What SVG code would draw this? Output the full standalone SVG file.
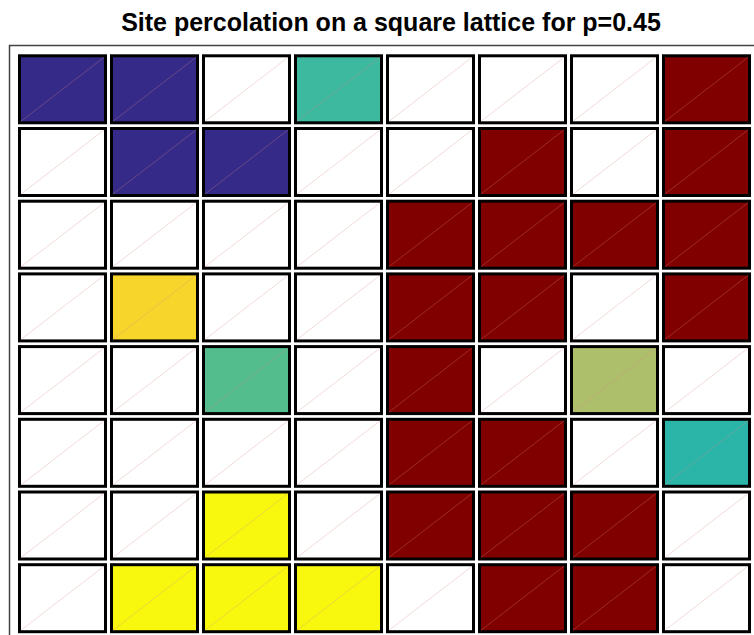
<svg xmlns="http://www.w3.org/2000/svg" width="754" height="635" viewBox="0 0 754 635">
<style>
.t{font-family:"Liberation Sans",Arial,sans-serif;font-weight:bold;font-size:25px;fill:#000}
.c{stroke:#000;stroke-width:3}
.w{fill:#fff}.n{fill:#352a87}.m{fill:#800000}.tq{fill:#3db99f}.g{fill:#f8d52a}.gr{fill:#53bd8e}.o{fill:#adbf6b}.cy{fill:#2ab5a8}.y{fill:#f8f80e}
.d{stroke:#d48a8a;stroke-width:0.7;stroke-opacity:0.45;fill:none}
</style>
<rect x="0" y="0" width="754" height="635" fill="#fff"/>
<text class="t" x="391" y="31" text-anchor="middle">Site percolation on a square lattice for p=0.45</text>
<path d="M9.5,635 V45.5 H754" fill="none" stroke="#444" stroke-width="1.5"/>
<g id="cells">
<g id="r0">
<rect class="c n" x="19.5" y="55.8" width="86" height="67"/>
<rect class="c n" x="111.5" y="55.8" width="86" height="67"/>
<rect class="c w" x="203.5" y="55.8" width="86" height="67"/>
<rect class="c tq" x="295.5" y="55.8" width="86" height="67"/>
<rect class="c w" x="387.5" y="55.8" width="86" height="67"/>
<rect class="c w" x="479.5" y="55.8" width="86" height="67"/>
<rect class="c w" x="571.5" y="55.8" width="86" height="67"/>
<rect class="c m" x="663.5" y="55.8" width="86" height="67"/>
</g>
<g id="r1">
<rect class="c w" x="19.5" y="128.5" width="86" height="67"/>
<rect class="c n" x="111.5" y="128.5" width="86" height="67"/>
<rect class="c n" x="203.5" y="128.5" width="86" height="67"/>
<rect class="c w" x="295.5" y="128.5" width="86" height="67"/>
<rect class="c w" x="387.5" y="128.5" width="86" height="67"/>
<rect class="c m" x="479.5" y="128.5" width="86" height="67"/>
<rect class="c w" x="571.5" y="128.5" width="86" height="67"/>
<rect class="c m" x="663.5" y="128.5" width="86" height="67"/>
</g>
<g id="r2">
<rect class="c w" x="19.5" y="201.2" width="86" height="67"/>
<rect class="c w" x="111.5" y="201.2" width="86" height="67"/>
<rect class="c w" x="203.5" y="201.2" width="86" height="67"/>
<rect class="c w" x="295.5" y="201.2" width="86" height="67"/>
<rect class="c m" x="387.5" y="201.2" width="86" height="67"/>
<rect class="c m" x="479.5" y="201.2" width="86" height="67"/>
<rect class="c m" x="571.5" y="201.2" width="86" height="67"/>
<rect class="c m" x="663.5" y="201.2" width="86" height="67"/>
</g>
<g id="r3">
<rect class="c w" x="19.5" y="273.9" width="86" height="67"/>
<rect class="c g" x="111.5" y="273.9" width="86" height="67"/>
<rect class="c w" x="203.5" y="273.9" width="86" height="67"/>
<rect class="c w" x="295.5" y="273.9" width="86" height="67"/>
<rect class="c m" x="387.5" y="273.9" width="86" height="67"/>
<rect class="c m" x="479.5" y="273.9" width="86" height="67"/>
<rect class="c w" x="571.5" y="273.9" width="86" height="67"/>
<rect class="c m" x="663.5" y="273.9" width="86" height="67"/>
</g>
<g id="r4">
<rect class="c w" x="19.5" y="346.6" width="86" height="67"/>
<rect class="c w" x="111.5" y="346.6" width="86" height="67"/>
<rect class="c gr" x="203.5" y="346.6" width="86" height="67"/>
<rect class="c w" x="295.5" y="346.6" width="86" height="67"/>
<rect class="c m" x="387.5" y="346.6" width="86" height="67"/>
<rect class="c w" x="479.5" y="346.6" width="86" height="67"/>
<rect class="c o" x="571.5" y="346.6" width="86" height="67"/>
<rect class="c w" x="663.5" y="346.6" width="86" height="67"/>
</g>
<g id="r5">
<rect class="c w" x="19.5" y="419.3" width="86" height="67"/>
<rect class="c w" x="111.5" y="419.3" width="86" height="67"/>
<rect class="c w" x="203.5" y="419.3" width="86" height="67"/>
<rect class="c w" x="295.5" y="419.3" width="86" height="67"/>
<rect class="c m" x="387.5" y="419.3" width="86" height="67"/>
<rect class="c m" x="479.5" y="419.3" width="86" height="67"/>
<rect class="c w" x="571.5" y="419.3" width="86" height="67"/>
<rect class="c cy" x="663.5" y="419.3" width="86" height="67"/>
</g>
<g id="r6">
<rect class="c w" x="19.5" y="492" width="86" height="67"/>
<rect class="c w" x="111.5" y="492" width="86" height="67"/>
<rect class="c y" x="203.5" y="492" width="86" height="67"/>
<rect class="c w" x="295.5" y="492" width="86" height="67"/>
<rect class="c m" x="387.5" y="492" width="86" height="67"/>
<rect class="c m" x="479.5" y="492" width="86" height="67"/>
<rect class="c m" x="571.5" y="492" width="86" height="67"/>
<rect class="c w" x="663.5" y="492" width="86" height="67"/>
</g>
<g id="r7">
<rect class="c w" x="19.5" y="564.7" width="86" height="67"/>
<rect class="c y" x="111.5" y="564.7" width="86" height="67"/>
<rect class="c y" x="203.5" y="564.7" width="86" height="67"/>
<rect class="c y" x="295.5" y="564.7" width="86" height="67"/>
<rect class="c w" x="387.5" y="564.7" width="86" height="67"/>
<rect class="c m" x="479.5" y="564.7" width="86" height="67"/>
<rect class="c m" x="571.5" y="564.7" width="86" height="67"/>
<rect class="c w" x="663.5" y="564.7" width="86" height="67"/>
</g>
</g>
<g id="connectors">
<path class="d" d="M21,121.3 L104,57.3 M113,121.3 L196,57.3 M205,121.3 L288,57.3 M297,121.3 L380,57.3 M389,121.3 L472,57.3 M481,121.3 L564,57.3 M573,121.3 L656,57.3 M665,121.3 L748,57.3
M21,194 L104,130 M113,194 L196,130 M205,194 L288,130 M297,194 L380,130 M389,194 L472,130 M481,194 L564,130 M573,194 L656,130 M665,194 L748,130
M21,266.7 L104,202.7 M113,266.7 L196,202.7 M205,266.7 L288,202.7 M297,266.7 L380,202.7 M389,266.7 L472,202.7 M481,266.7 L564,202.7 M573,266.7 L656,202.7 M665,266.7 L748,202.7
M21,339.4 L104,275.4 M113,339.4 L196,275.4 M205,339.4 L288,275.4 M297,339.4 L380,275.4 M389,339.4 L472,275.4 M481,339.4 L564,275.4 M573,339.4 L656,275.4 M665,339.4 L748,275.4
M21,412.1 L104,348.1 M113,412.1 L196,348.1 M205,412.1 L288,348.1 M297,412.1 L380,348.1 M389,412.1 L472,348.1 M481,412.1 L564,348.1 M573,412.1 L656,348.1 M665,412.1 L748,348.1
M21,484.8 L104,420.8 M113,484.8 L196,420.8 M205,484.8 L288,420.8 M297,484.8 L380,420.8 M389,484.8 L472,420.8 M481,484.8 L564,420.8 M573,484.8 L656,420.8 M665,484.8 L748,420.8
M21,557.5 L104,493.5 M113,557.5 L196,493.5 M205,557.5 L288,493.5 M297,557.5 L380,493.5 M389,557.5 L472,493.5 M481,557.5 L564,493.5 M573,557.5 L656,493.5 M665,557.5 L748,493.5
M21,630.2 L104,566.2 M113,630.2 L196,566.2 M205,630.2 L288,566.2 M297,630.2 L380,566.2 M389,630.2 L472,566.2 M481,630.2 L564,566.2 M573,630.2 L656,566.2 M665,630.2 L748,566.2"/>
</g>
</svg>
